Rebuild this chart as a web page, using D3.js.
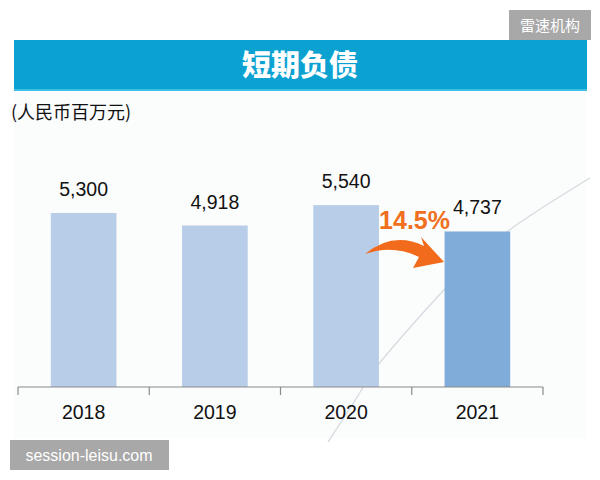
<!DOCTYPE html>
<html>
<head>
<meta charset="utf-8">
<script src="https://cdn.jsdelivr.net/npm/d3@7"></script>
<style>
  body { margin: 0; background: #fff; }
  svg { display: block; font-family: "Liberation Sans", Arial, sans-serif; }
</style>
</head>
<body>
<svg id="chart" width="600" height="480"></svg>
<script>
// data
var years = ["2018", "2019", "2020", "2021"];
var debt = [5300, 4918, 5540, 4737];
var changeLabel = "14.5%";

var width = 600, height = 480;
var svg = d3.select("#chart");

// faint backdrop panel
svg.append("rect")
    .attr("x", 14).attr("y", 92)
    .attr("width", 572).attr("height", 346)
    .attr("fill", "#fbfcfc");

// title banner
svg.append("rect")
    .attr("x", 14).attr("y", 40)
    .attr("width", 573).attr("height", 51)
    .attr("fill", "#0ba1d1");
svg.append("rect")
    .attr("x", 14).attr("y", 89)
    .attr("width", 573).attr("height", 2)
    .attr("fill", "#3cc0e6");
svg.append("text")
    .attr("x", 300).attr("y", 76)
    .attr("text-anchor", "middle")
    .attr("fill", "#fff")
    .style("font-family", "'Noto Sans CJK SC', sans-serif")
    .style("font-weight", 900)
    .style("font-size", "29px")
    .text("短期负债");

svg.append("text")
    .attr("x", 11).attr("y", 119)
    .attr("fill", "#111")
    .style("font-family", "'Noto Sans CJK SC', sans-serif")
    .style("font-size", "18px")
    .text("(人民币百万元)");

var x = d3.scaleBand()
    .domain(years)
    .range([18, 543])
    .paddingInner(0.5)
    .paddingOuter(0.25);

var y = d3.scaleLinear()
    .domain([0, 6000])
    .range([387, 190]);

// decorative curve behind bars
svg.append("path")
    .attr("d", d3.line().curve(d3.curveNatural)([[328, 442], [362, 389], [377, 366], [443, 291], [508, 231], [590, 178]]))
    .attr("fill", "none")
    .attr("stroke", "#d6dbe1")
    .attr("stroke-width", 1.3);

// bars
svg.selectAll("rect.bar")
    .data(debt)
    .enter().append("rect")
    .attr("class", "bar")
    .attr("x", function(d, i) { return x(years[i]); })
    .attr("y", function(d) { return y(d); })
    .attr("width", x.bandwidth())
    .attr("height", function(d) { return y(0) - y(d); })
    .attr("fill", function(d, i) { return i === years.length - 1 ? "#80acda" : "#b8cde8"; });

// value labels
svg.selectAll("text.val")
    .data(debt)
    .enter().append("text")
    .attr("class", "val")
    .attr("x", function(d, i) { return x(years[i]) + x.bandwidth() / 2; })
    .attr("y", function(d) { return y(d) - 17; })
    .attr("text-anchor", "middle")
    .attr("fill", "#111")
    .style("font-size", "19.5px")
    .text(function(d) { return d3.format(",")(d); });

// x axis
var axis = svg.append("g")
    .attr("transform", "translate(0," + y(0) + ")");
axis.append("line")
    .attr("x1", 18).attr("x2", 543)
    .attr("stroke", "#8a8a8a").attr("stroke-width", 1.2);
var bounds = years.map(function(d) { return x(d) - x.step() * 0.25; });
bounds.push(543);
axis.selectAll("line.tick")
    .data(bounds)
    .enter().append("line")
    .attr("class", "tick")
    .attr("x1", function(d) { return d; }).attr("x2", function(d) { return d; })
    .attr("y1", 0).attr("y2", 8)
    .attr("stroke", "#8a8a8a").attr("stroke-width", 1.2);
axis.selectAll("text")
    .data(years)
    .enter().append("text")
    .attr("x", function(d) { return x(d) + x.bandwidth() / 2; })
    .attr("y", 32)
    .attr("text-anchor", "middle")
    .attr("fill", "#111")
    .style("font-size", "19.5px")
    .text(function(d) { return d; });

// change annotation
var lastX = x(years[3]);
svg.append("text")
    .attr("x", lastX - 30).attr("y", 229)
    .attr("text-anchor", "middle")
    .attr("fill", "#f07020")
    .style("font-weight", "bold")
    .style("font-size", "25px")
    .text(changeLabel);
svg.append("path")
    .attr("d", "M365,254 Q393,231 424,246 L421,237 L444,262 L413,268 L419,257 Q393,244 365,254 Z")
    .attr("fill", "#f26a1b");

// watermarks
svg.append("rect")
    .attr("x", 509).attr("y", 10)
    .attr("width", 82).attr("height", 30)
    .attr("fill", "#a8a8a8");
svg.append("text")
    .attr("x", 550).attr("y", 31)
    .attr("text-anchor", "middle")
    .attr("fill", "#fff")
    .style("font-family", "'Noto Sans CJK SC', sans-serif")
    .style("font-size", "15px")
    .text("雷速机构");
svg.append("rect")
    .attr("x", 10).attr("y", 440)
    .attr("width", 159).attr("height", 30)
    .attr("fill", "#a8a8a8");
svg.append("text")
    .attr("x", 89).attr("y", 461)
    .attr("text-anchor", "middle")
    .attr("fill", "#fff")
    .style("font-size", "16px")
    .text("session-leisu.com");
</script>
</body>
</html>
